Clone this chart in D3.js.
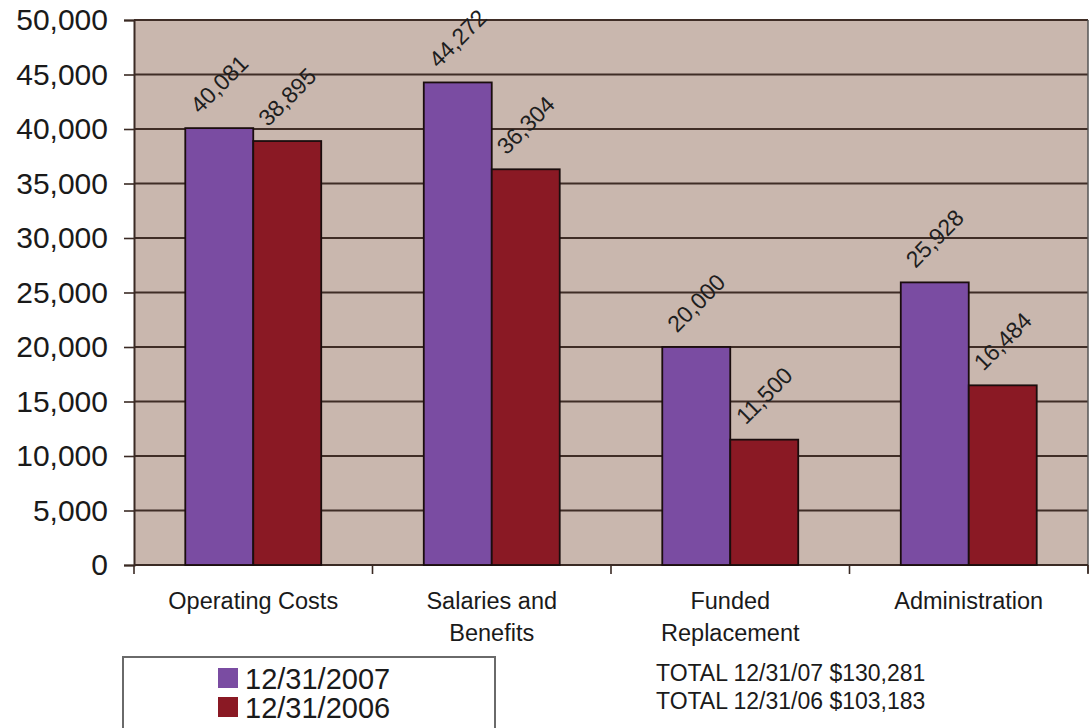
<!DOCTYPE html>
<html>
<head>
<meta charset="utf-8">
<script src="https://cdn.jsdelivr.net/npm/d3@7/dist/d3.min.js"></script>
<style>
  html, body { margin: 0; padding: 0; background: #ffffff; }
  svg { display: block; font-family: "Liberation Sans", Arial, sans-serif; }
</style>
</head>
<body>
<svg id="chart" width="1092" height="728"></svg>
<script>
const categories = ["Operating Costs", "Salaries and\nBenefits", "Funded\nReplacement", "Administration"];
const seriesNames = ["12/31/2007", "12/31/2006"];
const v2007 = [40081, 44272, 20000, 25928];
const v2006 = [38895, 36304, 11500, 16484];
const yTicks = [0, 5000, 10000, 15000, 20000, 25000, 30000, 35000, 40000, 45000, 50000];
const totals = ["TOTAL 12/31/07 $130,281", "TOTAL 12/31/06 $103,183"];

const colors = ["#7a4ca2", "#8a1924"];
const svg = d3.select("#chart");

const pL = 134, pR = 1088, pT = 20, pB = 565;

const y = d3.scaleLinear().domain([0, 50000]).range([pB, pT]);
const x = d3.scaleBand().domain(categories).range([pL, pR])
  .paddingInner(0.43).paddingOuter(0.215);
const xs = d3.scaleBand().domain(seriesNames).range([0, x.bandwidth()]);

// plot background
svg.append("rect").attr("x", pL).attr("y", pT)
  .attr("width", pR - pL).attr("height", pB - pT)
  .attr("fill", "#c9b7ae");

// gridlines
svg.append("g").selectAll("line").data(yTicks).join("line")
  .attr("x1", pL).attr("x2", pR)
  .attr("y1", d => y(d)).attr("y2", d => y(d))
  .attr("stroke", "#3f2d26").attr("stroke-width", 2);

// right border
svg.append("line").attr("x1", pR).attr("x2", pR).attr("y1", pT).attr("y2", pB + 8)
  .attr("stroke", "#555").attr("stroke-width", 1.5);

// y axis
const yAxis = d3.axisLeft(y).tickValues(yTicks).tickSize(10).tickPadding(16)
  .tickFormat(d3.format(","));
const gy = svg.append("g").attr("transform", `translate(${pL},0)`).call(yAxis);
gy.select(".domain").attr("stroke", "#3a2a24").attr("stroke-width", 2);
gy.selectAll(".tick line").attr("stroke", "#3a2a24").attr("stroke-width", 1.6);
gy.selectAll(".tick text").attr("font-size", 30).attr("fill", "#1a1a1a")
  .attr("font-family", "'Liberation Sans', Arial, sans-serif");

// x axis line + ticks at category boundaries
svg.append("line").attr("x1", pL).attr("x2", pR).attr("y1", pB).attr("y2", pB)
  .attr("stroke", "#3a2a24").attr("stroke-width", 2);
const boundaries = d3.range(categories.length + 1).map(i => pL + i * x.step());
svg.append("g").selectAll("line").data(boundaries).join("line")
  .attr("x1", d => d).attr("x2", d => d).attr("y1", pB).attr("y2", pB + 9)
  .attr("stroke", "#3a2a24").attr("stroke-width", 1.6);

// bars
const rows = categories.map((c, i) => ({ c, vals: [v2007[i], v2006[i]] }));
const groups = svg.append("g").selectAll("g").data(rows).join("g")
  .attr("transform", d => `translate(${x(d.c)},0)`);
groups.selectAll("rect").data(d => d.vals.map((v, j) => ({ v, s: seriesNames[j], j }))).join("rect")
  .attr("x", d => xs(d.s)).attr("width", xs.bandwidth())
  .attr("y", d => y(d.v)).attr("height", d => y(0) - y(d.v))
  .attr("fill", d => colors[d.j]).attr("stroke", "#1a0d0d").attr("stroke-width", 1.8);

// data labels
groups.selectAll("text.lbl").data(d => d.vals.map((v, j) => ({ v, s: seriesNames[j], j }))).join("text")
  .attr("class", "lbl")
  .attr("transform", d => `translate(${xs(d.s) + xs.bandwidth() / 2},${y(d.v) - 44}) rotate(-45)`)
  .attr("text-anchor", "middle").attr("dominant-baseline", "central")
  .attr("font-size", 23).attr("fill", "#1e1e1e")
  .text(d => d3.format(",")(d.v));

// category labels
svg.append("g").selectAll("text").data(categories).join("text")
  .attr("x", d => x(d) + x.bandwidth() / 2).attr("y", 609)
  .attr("text-anchor", "middle").attr("font-size", 23.5).attr("fill", "#1a1a1a")
  .each(function (d) {
    const parts = d.split("\n");
    d3.select(this).selectAll("tspan").data(parts).join("tspan")
      .attr("x", x(d) + x.bandwidth() / 2).attr("dy", (p, k) => k === 0 ? 0 : 32)
      .text(p => p);
  });

// legend
const lg = svg.append("g");
lg.append("rect").attr("x", 123).attr("y", 657).attr("width", 372).attr("height", 72)
  .attr("fill", "#fff").attr("stroke", "#6a6a6a").attr("stroke-width", 2);
seriesNames.forEach((s, i) => {
  lg.append("rect").attr("x", 218).attr("y", 668 + i * 29).attr("width", 20).attr("height", 20)
    .attr("fill", colors[i]);
  lg.append("text").attr("x", 245).attr("y", 689 + i * 29)
    .attr("font-size", 29).attr("fill", "#1a1a1a").text(s);
});

// totals
svg.append("g").selectAll("text").data(totals).join("text")
  .attr("x", 656).attr("y", (d, i) => 681 + i * 28)
  .attr("font-size", 23).attr("fill", "#1a1a1a").text(d => d);
</script>
</body>
</html>
